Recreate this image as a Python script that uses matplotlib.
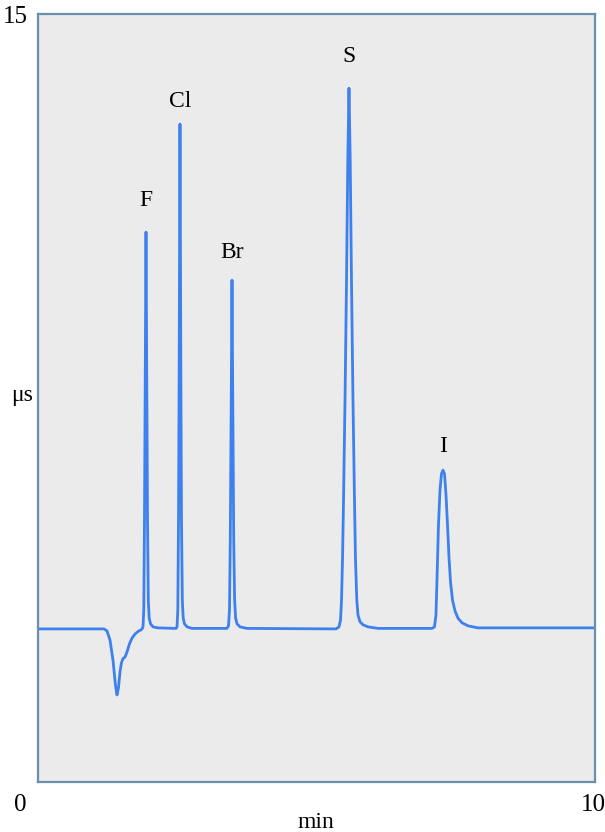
import matplotlib
matplotlib.use("Agg")
import matplotlib.pyplot as plt

# chromatogram trace: time (min), conductivity (uS)
time_min = [0.0, 1.185, 1.239, 1.293, 1.346, 1.391, 1.418, 1.445, 1.472, 1.499,
            1.526, 1.562, 1.598, 1.643, 1.688, 1.742, 1.795, 1.849,
            # F
            1.867, 1.885, 1.899, 1.912, 1.925, 1.939, 1.953, 1.966, 1.980, 1.996,
            2.020, 2.065, 2.154,
            # Cl
            2.478, 2.496, 2.510, 2.523, 2.535, 2.549, 2.564, 2.576, 2.591, 2.607,
            2.630, 2.675, 2.765,
            # Br
            3.393, 3.420, 3.438, 3.452, 3.467, 3.483, 3.499, 3.514, 3.530, 3.548,
            3.573, 3.627, 3.752,
            # S
            5.350, 5.404, 5.431, 5.449, 5.467, 5.485, 5.512, 5.539, 5.562, 5.583,
            5.605, 5.628, 5.655, 5.682, 5.700, 5.724, 5.745, 5.781, 5.835, 5.925,
            6.104,
            # I
            7.074, 7.118, 7.145, 7.168, 7.190, 7.217, 7.244, 7.271, 7.298, 7.325,
            7.352, 7.379, 7.406, 7.442, 7.487, 7.540, 7.612, 7.720, 7.899, 10.0]
signal = [2.99, 2.99, 2.95, 2.77, 2.38, 1.89, 1.70, 1.84, 2.15, 2.33,
          2.41, 2.44, 2.54, 2.70, 2.81, 2.89, 2.94, 2.97,
          2.99, 3.03, 3.36, 5.12, 7.85, 10.74, 7.85, 5.12, 3.55, 3.20,
          3.09, 3.03, 3.01,
          3.00, 3.03, 3.36, 5.12, 8.24, 12.85, 8.24, 5.12, 3.55, 3.20,
          3.09, 3.03, 3.00,
          3.00, 3.05, 3.36, 4.73, 7.07, 9.80, 7.07, 4.73, 3.55, 3.20,
          3.09, 3.03, 3.00,
          2.99, 3.03, 3.16, 3.55, 4.34, 5.51, 7.46, 9.80, 12.15, 13.55,
          12.15, 9.80, 7.46, 5.51, 4.34, 3.55, 3.26, 3.13, 3.07, 3.03,
          3.00,
          3.00, 3.03, 3.26, 4.14, 5.02, 5.70, 6.02, 6.09, 6.02, 5.61,
          5.02, 4.38, 3.91, 3.55, 3.34, 3.20, 3.11, 3.05, 3.01, 3.01]

# peak labels
peak_names = ["F", "Cl", "Br", "S", "I"]
peak_times = [1.939, 2.549, 3.483, 5.583, 7.271]
peak_heights = [10.74, 12.85, 9.80, 13.55, 6.09]

x_ticks = [0, 10]
y_top = 15

BG = "#ebebeb"
LINE = "#3d80ee"
FRAME = "#6990ad"
SERIF = ["Liberation Serif", "DejaVu Serif"]

fig = plt.figure(figsize=(6.05, 8.32), dpi=100)
ax = fig.add_axes([38 / 605, 50 / 832, 557 / 605, 768 / 832])
ax.set_facecolor(BG)
ax.plot(time_min, signal, color=LINE, lw=2.0, solid_joinstyle="round")
ax.set_xlim(x_ticks[0], x_ticks[-1])
ax.set_ylim(0, y_top)
ax.set_xticks([])
ax.set_yticks([])
for s in ax.spines.values():
    s.set_color(FRAME)
    s.set_linewidth(1.6)

# label centre offsets above apex, in points
offsets = [23, 16, 20, 23, 17]
for name, t, h, off in zip(peak_names, peak_times, peak_heights, offsets):
    ax.annotate(name, (t, h), xytext=(0, off), textcoords="offset points",
                ha="center", va="center", fontsize=17, family=SERIF)

fs = 18
fig.text(15 / 605, 1 - 17 / 832, str(y_top), ha="center", va="center", fontsize=fs, family=SERIF)
fig.text(20 / 605, 1 - 805 / 832, str(x_ticks[0]), ha="center", va="center", fontsize=fs, family=SERIF)
fig.text(593 / 605, 1 - 805 / 832, str(x_ticks[-1]), ha="center", va="center", fontsize=fs, family=SERIF)
fig.text(316 / 605, 1 - 822 / 832, "min", ha="center", va="center", fontsize=17, family=SERIF)
fig.text(22 / 605, 1 - 396 / 832, "μs", ha="center", va="center", fontsize=17, family=SERIF)

fig.savefig("out.png", dpi=100, facecolor="white")
